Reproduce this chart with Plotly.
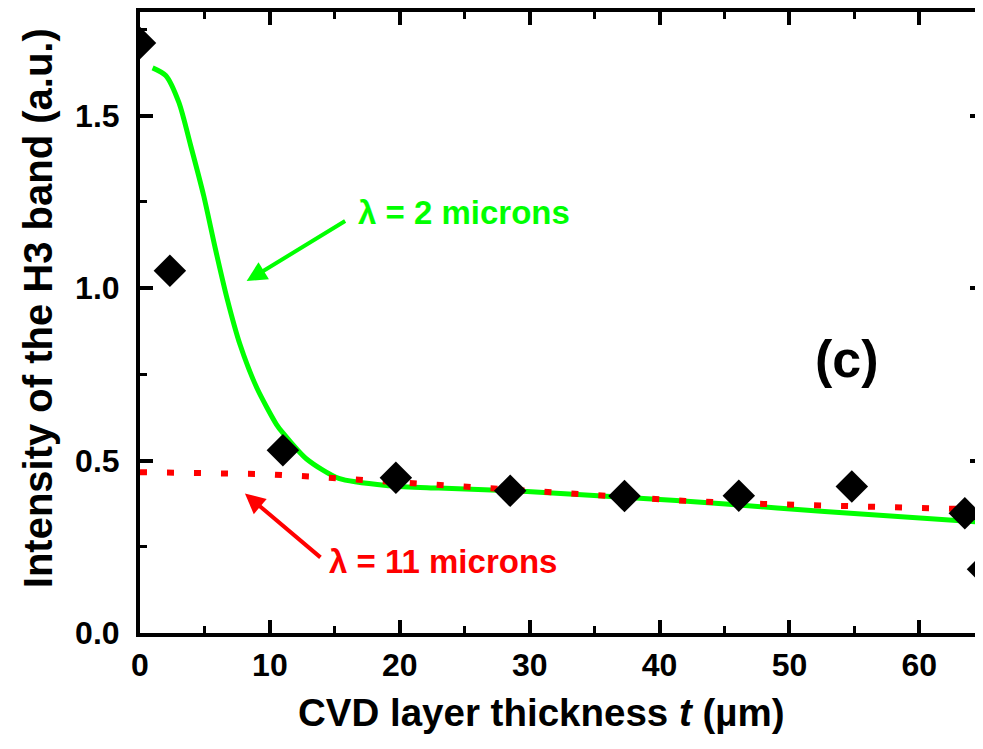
import plotly.graph_objects as go

# Measured points (CVD layer thickness t in µm, H3 band intensity a.u.)
t_meas = [0.0, 2.3, 11.0, 19.7, 28.5, 37.3, 46.1, 54.8, 63.5, 64.9]
i_meas = [1.71, 1.05, 0.53, 0.45, 0.412, 0.397, 0.398, 0.425, 0.347, 0.185]

# Model curve, lambda = 2 microns
t_l2 = [0.97, 1.98, 3.0, 3.9, 4.9, 5.8, 6.7, 7.7, 9.0, 10.5, 11.0, 12.8, 15.3,
        19.2, 23.0, 29.8, 37.5, 45.1, 52.7, 64.9]
i_l2 = [1.638, 1.616, 1.537, 1.413, 1.268, 1.114, 0.970, 0.836, 0.710, 0.605,
        0.580, 0.505, 0.448, 0.427, 0.420, 0.410, 0.393, 0.374, 0.352, 0.321]

# Model curve, lambda = 11 microns
t_l11 = [0.0, 5.2, 9.3, 13.4, 17.5, 21.6, 25.6, 29.7, 33.8, 37.9, 42.0, 46.1,
         50.2, 54.3, 58.4, 62.5, 64.9]
i_l11 = [0.466, 0.463, 0.461, 0.453, 0.443, 0.432, 0.420, 0.410, 0.400, 0.390,
         0.383, 0.376, 0.371, 0.367, 0.363, 0.360, 0.359]

x_ticks = [0, 10, 20, 30, 40, 50, 60]
y_ticks = [0.0, 0.5, 1.0, 1.5]

x_title = "CVD layer thickness <i>t</i> (µm)"
y_title = "Intensity of the H3 band (a.u.)"

FONT = "Liberation Sans, Arial, sans-serif"
GREEN = "#00FF00"
RED = "#FF0000"

fig = go.Figure()
fig.add_trace(go.Scatter(x=t_l2, y=i_l2, mode="lines",
                         line=dict(color=GREEN, width=5, shape="spline",
                                   smoothing=0.7),
                         showlegend=False))
fig.add_trace(go.Scatter(x=t_l11, y=i_l11, mode="lines",
                         line=dict(color=RED, width=6, dash="7px,20px"),
                         showlegend=False))
fig.add_trace(go.Scatter(x=t_meas, y=i_meas, mode="markers",
                         marker=dict(symbol="diamond", size=25, color="black",
                                     line=dict(width=0)),
                         showlegend=False))
fig.add_trace(go.Scatter(x=[], y=[], yaxis="y2", showlegend=False))

axis_common = dict(
    showgrid=False, zeroline=False, showline=True, linecolor="black",
    linewidth=4, ticks="inside", tickcolor="black", tickwidth=4, ticklen=13,
    tickfont=dict(family=FONT, size=32, color="black", weight="bold"),
)
minor_common = dict(ticks="inside", ticklen=7, tickwidth=3, tickcolor="black")

fig.update_layout(
    width=975, height=733,
    margin=dict(l=132, r=0, t=2, b=108),
    paper_bgcolor="white", plot_bgcolor="white",
    xaxis=dict(
        **axis_common, range=[0, 64.9], tickvals=x_ticks,
        mirror="ticks", ticklabelstandoff=1,
        minor=dict(dtick=5, tick0=0, **minor_common),
    ),
    yaxis=dict(
        **axis_common, range=[0, 1.8], tickvals=y_ticks, tickformat=".1f",
        ticklabelstandoff=10,
        minor=dict(dtick=0.25, tick0=0, **minor_common),
    ),
    yaxis2=dict(
        overlaying="y", side="right", anchor="x", range=[0, 1.8],
        tickvals=y_ticks, showticklabels=False, showline=False, showgrid=False,
        zeroline=False, ticks="inside", ticklen=13, tickwidth=4,
        tickcolor="black",
        minor=dict(dtick=0.25, tick0=0, **minor_common),
    ),
    annotations=[
        dict(x=0.476, y=-0.128, xref="paper", yref="paper", text=x_title,
             showarrow=False, xanchor="center", yanchor="middle",
             font=dict(family=FONT, size=38.5, color="black", weight="bold")),
        dict(x=-0.121, y=0.523, xref="paper", yref="paper", text=y_title,
             textangle=-90, showarrow=False, xanchor="center",
             yanchor="middle",
             font=dict(family=FONT, size=40, color="black", weight="bold")),
        dict(x=8.21, y=1.020, xref="x", yref="y", text="", showarrow=True,
             ax=100, ay=-61, arrowhead=2, arrowsize=1, arrowwidth=4,
             arrowcolor=GREEN),
        dict(x=16.6, y=1.218, xref="x", yref="y", xanchor="left",
             yanchor="middle", text="λ = 2 microns", showarrow=False,
             font=dict(family=FONT, size=33, color=GREEN, weight="bold")),
        dict(x=8.08, y=0.404, xref="x", yref="y", text="", showarrow=True,
             ax=77, ay=65, arrowhead=2, arrowsize=1, arrowwidth=4,
             arrowcolor=RED),
        dict(x=14.4, y=0.208, xref="x", yref="y", xanchor="left",
             yanchor="middle", text="λ = 11 microns", showarrow=False,
             font=dict(family=FONT, size=33, color=RED, weight="bold")),
        dict(x=54.4, y=0.795, xref="x", yref="y", xanchor="center",
             yanchor="middle", text="(c)", showarrow=False,
             font=dict(family=FONT, size=52, color="black", weight="bold")),
    ],
)

fig.write_html("out.html")
